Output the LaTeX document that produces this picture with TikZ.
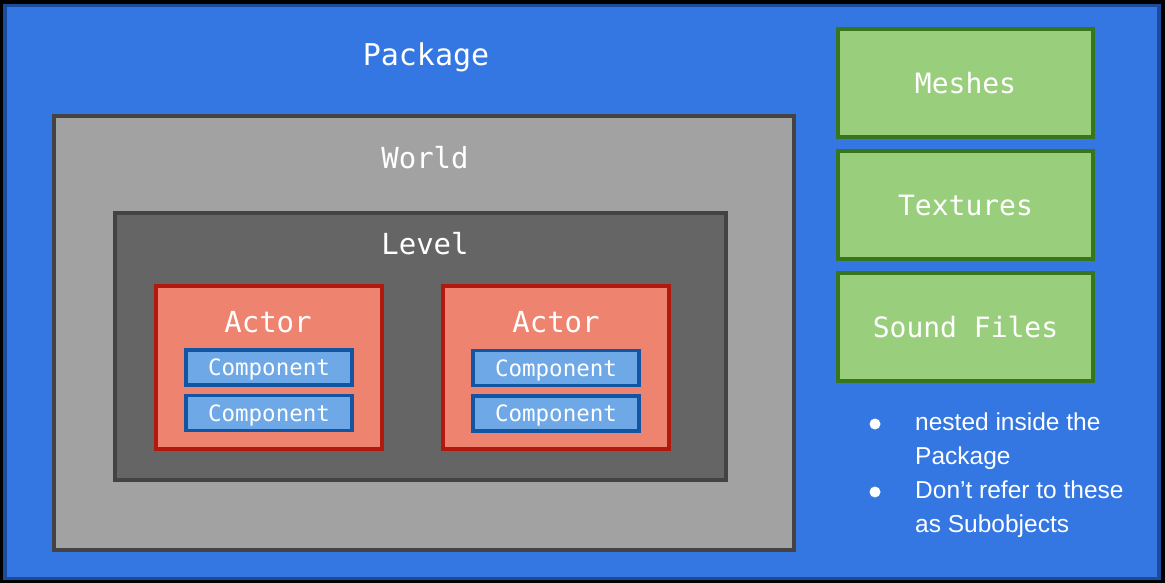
\documentclass[tikz,border=0pt]{standalone}
\usepackage{fontspec}
\setmainfont{Liberation Sans}
\newfontfamily\monof{DejaVu Sans Mono}
\definecolor{pkgfill}{HTML}{3477E3}
\definecolor{pkgline}{HTML}{1C4A9C}
\definecolor{worldfill}{HTML}{A2A2A2}
\definecolor{grayline}{HTML}{434343}
\definecolor{levelfill}{HTML}{656565}
\definecolor{actorfill}{HTML}{EE836F}
\definecolor{actorline}{HTML}{B3180F}
\definecolor{compfill}{HTML}{6FA8E6}
\definecolor{compline}{HTML}{1155A3}
\definecolor{assetfill}{HTML}{99CF7C}
\definecolor{assetline}{HTML}{38761D}
\tikzset{
  box/.style={rectangle, inner sep=0pt, outer sep=0pt},
  worldbox/.style={box, fill=worldfill, draw=grayline, line width=4pt},
  levelbox/.style={box, fill=levelfill, draw=grayline, line width=3.5pt},
  actorbox/.style={box, fill=actorfill, draw=actorline, line width=4pt},
  compbox/.style={box, fill=compfill, draw=compline, line width=3.5pt, minimum width=166pt, minimum height=35pt, text=white, text depth=0pt, font=\monof\fontsize{22.5}{26}\selectfont},
  assetbox/.style={box, fill=assetfill, draw=assetline, line width=3.5pt, minimum width=255pt, minimum height=108pt, text=white, text depth=0pt, font=\monof\fontsize{28}{32}\selectfont},
  title/.style={text=white, inner sep=0pt, text depth=0pt, font=\monof\fontsize{29}{33}\selectfont},
  bullettext/.style={text=white, inner sep=0pt, anchor=north west, align=left, font=\fontsize{24.5}{34}\selectfont},
  bulletdot/.style={circle, fill=white, inner sep=0pt, minimum size=11pt},
}
\begin{document}
\begin{tikzpicture}[x=1pt, y=-1pt]
\fill[black] (0,0) rectangle (1165,583);
\useasboundingbox (0,0) rectangle (1165,583);
\node[box, fill=pkgfill, draw=pkgline, line width=3.5pt, minimum width=1154pt, minimum height=573pt] (pkg) at (582,292) {};
\node[title, font=\monof\fontsize{30}{34}\selectfont] (pkgt) at (426,54) {Package};
\node[worldbox, minimum width=740pt, minimum height=434pt] (world) at (424,333) {};
\node[title] (worldt) at (425,157) {World};
\node[levelbox, minimum width=611pt, minimum height=267pt] (level) at (420.5,346.5) {};
\node[title] (levelt) at (425,243) {Level};
\node[actorbox, minimum width=226pt, minimum height=163pt] (actor1) at (269,367.5) {};
\node[title] (actor1t) at (268,322) {Actor};
\node[compbox] (c11) at (269,367.5) {Component};
\node[compbox] (c12) at (269,413) {Component};
\node[actorbox, minimum width=226pt, minimum height=163pt] (actor2) at (556,367.5) {};
\node[title] (actor2t) at (556,322) {Actor};
\node[compbox] (c21) at (556,368) {Component};
\node[compbox] (c22) at (556,413.5) {Component};
\node[assetbox] (meshes) at (965.5,83) {Meshes};
\node[assetbox] (textures) at (965.5,205) {Textures};
\node[assetbox] (sound) at (965.5,327) {Sound Files};
\node[bulletdot] (b1) at (875,424) {};
\node[bulletdot] (b2) at (875,492) {};
\node[bullettext] (t1) at (915,413) {nested inside the\\Package};
\node[bullettext] (t2) at (915,481) {Don’t refer to these\\as Subobjects};
\end{tikzpicture}
\end{document}
